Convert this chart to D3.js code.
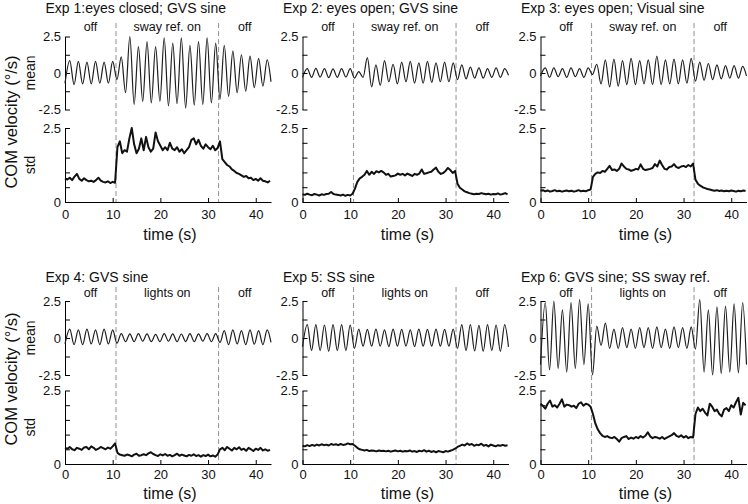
<!DOCTYPE html>
<html><head><meta charset="utf-8">
<script src="https://cdn.jsdelivr.net/npm/d3@7"></script>
<style>
body{margin:0;background:#fff}
text{font-family:"Liberation Sans",Arial,Helvetica,sans-serif;fill:#111}
</style>
</head><body>
<svg id="c" width="748" height="504"></svg>
<script>
// ---------------- DATA ----------------
const titles = ["Exp 1:eyes closed; GVS sine","Exp 2: eyes open; GVS sine","Exp 3: eyes open; Visual sine",
                "Exp 4: GVS sine","Exp 5: SS sine","Exp 6: GVS sine; SS sway ref."];
const segLabelsTop = ["off","sway ref. on","off"];
const segLabelsBottom = ["off","lights on","off"];
const phaseTimes = [10.7, 32.2];
const timeDomain = [0, 43.2];
const timeTicks = [0,10,20,30,40];
const meanTicks = [-2.5,-1.25,0,1.25,2.5];
const meanTickLabels = ["-2.5","","0","","2.5"];
const stdTicks = [0,0.5,1,1.5,2,2.5];
const stdTickLabels = ["0","","","","","2.5"];

// times of the successive troughs / peaks of the mean traces (s)
const extremaTimes = [0,1.0,1.9,2.8,3.7,4.6,5.5,6.4,7.3,8.2,9.1,10.0,10.9,11.8,12.7,13.6,14.5,15.4,16.3,17.2,
  18.1,19.0,19.9,20.8,21.7,22.6,23.5,24.4,25.3,26.2,27.1,28.0,28.9,29.8,30.7,31.6,32.5,33.4,34.3,35.2,36.1,37.0,
  37.9,38.8,39.7,40.6,41.5,42.4,43.2];

const mean1 = [-0.7,0.85,-0.8,0.8,-0.75,0.75,-0.75,0.8,-0.7,0.75,-0.7,0.8,-0.45,
  1.1,-1.35,2.5,-2.15,1.8,-1.95,2.15,-2.05,1.8,-1.95,2.4,-2.25,2.05,-2.1,2.4,-2.4,1.9,-2.2,2.15,-2.15,2.4,-2.05,2.05,-1.8,
  1.9,-1.6,1.5,-1.35,1.25,-1.25,1.15,-1.0,1.0,-0.9,0.9,-0.6];
const mean2 = [-0.3,0.3,-0.3,0.32,-0.28,0.3,-0.32,0.28,-0.3,0.3,-0.28,0.3,-0.35,
  0.1,-0.3,1.05,-0.95,0.55,-0.85,0.85,-0.6,0.6,-0.75,0.75,-0.6,0.8,-0.7,0.7,-0.7,0.8,-0.65,0.7,-0.6,0.75,-0.6,0.7,-0.45,
  0.55,-0.4,0.4,-0.35,0.35,-0.35,0.3,-0.3,0.35,-0.3,0.3,-0.15];
const mean3 = [-0.2,0.35,-0.3,0.35,-0.25,0.3,-0.3,0.35,-0.25,0.3,-0.3,0.35,-0.1,
  0.6,-0.75,0.9,-0.95,0.95,-0.9,0.85,-0.8,1.0,-0.8,0.85,-0.75,0.9,-0.8,1.15,-0.8,0.9,-0.75,0.95,-0.75,0.9,-0.7,1.0,-0.55,
  0.75,-0.5,0.65,-0.45,0.55,-0.4,0.5,-0.35,0.5,-0.35,0.45,-0.2];
const mean4 = [-0.4,0.6,-0.45,0.55,-0.45,0.6,-0.4,0.55,-0.45,0.6,-0.4,0.55,-0.35,
  0.3,-0.25,0.28,-0.25,0.3,-0.22,0.28,-0.25,0.25,-0.25,0.3,-0.22,0.28,-0.25,0.27,-0.24,0.3,-0.25,0.28,-0.22,0.3,-0.25,0.3,-0.3,
  0.5,-0.45,0.55,-0.4,0.5,-0.45,0.55,-0.42,0.5,-0.45,0.55,-0.3];
const mean5 = [-0.6,0.9,-0.85,0.9,-0.85,0.88,-0.9,0.9,-0.85,0.9,-0.85,0.88,-0.7,
  0.6,-0.55,0.58,-0.55,0.6,-0.55,0.55,-0.58,0.6,-0.55,0.58,-0.55,0.55,-0.58,0.6,-0.55,0.58,-0.55,0.6,-0.55,0.58,-0.55,0.6,-0.7,
  0.9,-0.85,0.9,-0.88,0.85,-0.9,0.9,-0.85,0.88,-0.9,0.9,-0.6];
const mean6 = [-1.8,2.4,-2.15,2.5,-2.05,1.9,-2.3,2.4,-2.05,2.6,-1.8,2.3,-2.5,
  0.8,-0.5,1.0,-0.7,0.6,-0.7,0.7,-0.65,0.6,-0.7,0.7,-0.65,0.7,-0.7,0.75,-0.65,0.6,-0.7,0.75,-0.65,0.7,-0.7,0.75,-0.75,
  2.6,-2.3,1.9,-2.5,2.1,-2.4,2.15,-2.3,2.3,-2.35,2.4,-1.8];

// std traces sampled every 0.5 s from 0 to 43 s
const stdStep = 0.5;
const std1 = [0.80,0.76,0.82,0.74,0.86,0.95,0.78,0.72,0.80,0.74,0.70,0.72,0.68,0.74,0.82,0.72,0.68,0.66,0.70,0.64,0.68,0.65,
  1.85,2.05,1.65,1.75,1.70,2.15,2.50,1.95,1.65,1.80,2.15,1.75,2.20,1.85,1.70,1.80,2.35,2.05,1.90,1.75,
  1.85,1.75,2.00,1.80,1.75,1.85,1.70,1.78,1.65,1.75,1.85,2.10,2.15,1.95,2.10,1.90,1.80,1.95,1.85,1.78,1.90,1.75,1.82,2.05,
  1.45,1.35,1.25,1.20,1.10,1.05,0.98,0.95,0.90,0.85,0.88,0.80,0.82,0.74,0.78,0.72,0.80,0.72,0.70,0.66,0.72];
const std2 = [0.26,0.24,0.28,0.25,0.23,0.27,0.25,0.22,0.26,0.24,0.27,0.28,0.34,0.27,0.25,0.24,0.22,0.25,0.21,0.24,0.22,0.28,
  0.45,0.68,0.80,0.85,0.92,1.05,0.92,1.02,0.95,1.04,1.00,1.05,1.00,0.92,0.95,0.86,0.88,0.90,0.96,0.92,
  0.95,0.90,0.96,0.92,0.88,0.95,0.92,0.96,1.10,0.95,0.97,1.00,1.02,1.10,1.16,1.02,0.95,0.98,1.05,1.15,1.08,0.98,1.05,0.62,
  0.48,0.42,0.36,0.33,0.30,0.28,0.26,0.28,0.27,0.30,0.28,0.26,0.28,0.25,0.27,0.26,0.29,0.25,0.27,0.30,0.26];
const std3 = [0.38,0.40,0.36,0.39,0.35,0.37,0.40,0.36,0.38,0.35,0.37,0.39,0.36,0.38,0.35,0.37,0.40,0.36,0.38,0.36,0.40,0.42,
  0.85,0.95,1.00,0.98,1.05,1.02,1.12,1.22,1.08,1.10,1.05,1.12,1.30,1.20,1.12,1.10,1.05,1.08,1.12,1.10,
  1.27,1.12,1.08,1.10,1.12,1.15,1.28,1.20,1.40,1.25,1.12,1.10,1.18,1.20,1.28,1.18,1.15,1.20,1.22,1.18,1.25,1.20,1.30,0.75,
  0.62,0.55,0.50,0.47,0.44,0.42,0.40,0.38,0.40,0.37,0.39,0.36,0.38,0.36,0.39,0.37,0.35,0.38,0.36,0.39,0.37];
const std4 = [0.55,0.52,0.58,0.50,0.47,0.55,0.52,0.48,0.56,0.58,0.50,0.60,0.55,0.48,0.52,0.58,0.54,0.50,0.56,0.52,0.60,0.70,
  0.38,0.32,0.30,0.28,0.32,0.30,0.26,0.32,0.35,0.28,0.30,0.33,0.30,0.36,0.40,0.34,0.30,0.27,0.33,0.29,
  0.34,0.28,0.31,0.26,0.30,0.35,0.28,0.32,0.29,0.26,0.31,0.28,0.33,0.27,0.30,0.25,0.30,0.27,0.32,0.26,0.29,0.25,0.32,0.50,
  0.55,0.47,0.58,0.52,0.46,0.55,0.50,0.57,0.48,0.52,0.45,0.55,0.50,0.44,0.52,0.48,0.55,0.46,0.50,0.45,0.48];
const std5 = [0.62,0.60,0.64,0.61,0.65,0.62,0.66,0.63,0.67,0.64,0.66,0.63,0.68,0.65,0.67,0.64,0.68,0.65,0.66,0.70,0.67,0.68,
  0.62,0.55,0.50,0.48,0.46,0.48,0.44,0.46,0.45,0.43,0.46,0.44,0.45,0.43,0.45,0.42,0.44,0.46,0.43,0.45,
  0.42,0.44,0.43,0.46,0.42,0.44,0.41,0.45,0.43,0.47,0.42,0.45,0.41,0.44,0.40,0.44,0.42,0.40,0.44,0.42,0.45,0.48,0.52,0.58,
  0.62,0.66,0.63,0.70,0.65,0.68,0.62,0.66,0.64,0.69,0.62,0.65,0.60,0.66,0.63,0.60,0.64,0.62,0.65,0.62,0.64];
const std6 = [2.05,1.98,1.88,2.05,2.16,1.95,2.00,1.92,2.05,2.20,1.95,2.02,2.00,1.95,1.98,1.90,2.05,2.10,1.98,2.05,2.02,1.95,
  1.70,1.38,1.18,1.05,0.96,0.92,0.95,0.90,0.88,0.92,0.85,0.76,0.88,0.92,0.95,0.85,0.90,0.86,0.92,0.88,
  0.95,0.90,0.96,1.08,0.94,0.88,0.92,0.90,0.86,0.92,0.85,0.90,0.94,0.98,1.05,0.96,0.92,0.98,0.90,0.95,0.88,0.92,0.90,1.70,
  1.92,1.80,1.88,1.75,1.65,2.05,1.95,1.80,1.85,1.70,1.62,1.85,1.90,1.80,2.00,1.92,2.10,2.25,1.68,2.08,2.00];

const meanSeries = [mean1,mean2,mean3,mean4,mean5,mean6];
const stdSeries = [std1,std2,std3,std4,std5,std6];

// ---------------- LAYOUT ----------------
const colX = [65, 302.5, 540.5];
const plotW = 206;
const rows = [
  {meanTop:36.5, meanBot:109.5, stdTop:128, stdBot:202, titleY:13, segY:31, tickPad:7.5, xlabY:240, dashTop:23, yLabC:122},
  {meanTop:301, meanBot:375, stdTop:390.5, stdBot:464, titleY:281.5, segY:296.5, tickPad:6.2, xlabY:499, dashTop:287, yLabC:379}
];
const FONT = '"Liberation Sans",Arial,Helvetica,sans-serif';

const svg = d3.select("#c");

function styleAxis(g){
  g.attr("font-family", FONT).attr("font-size", 13);
  g.selectAll("path.domain").attr("stroke","#000").attr("stroke-width",1);
  g.selectAll(".tick line").attr("stroke","#000").attr("stroke-width",1);
  g.selectAll(".tick text").attr("fill","#111");
}

for (let p = 0; p < 6; p++) {
  const row = Math.floor(p/3), col = p % 3;
  const r = rows[row], x0 = colX[col];
  const x = d3.scaleLinear().domain(timeDomain).range([x0, x0 + plotW]);
  const yM = d3.scaleLinear().domain([-2.5, 2.5]).range([r.meanBot, r.meanTop]);
  const yS = d3.scaleLinear().domain([0, 2.5]).range([r.stdBot, r.stdTop]);
  const g = svg.append("g");

  // phase boundaries
  phaseTimes.forEach(t => {
    g.append("line").attr("x1", x(t)).attr("x2", x(t))
      .attr("y1", r.dashTop).attr("y2", r.stdBot)
      .attr("stroke", "#9a9a9a").attr("stroke-width", 1.1).attr("stroke-dasharray", "5,3");
  });

  // segment labels
  const bounds = [timeDomain[0], phaseTimes[0], phaseTimes[1], timeDomain[1]];
  const segL = row === 0 ? segLabelsTop : segLabelsBottom;
  segL.forEach((s, i) => {
    g.append("text").attr("x", x((bounds[i] + bounds[i+1]) / 2)).attr("y", r.segY)
      .attr("text-anchor", "middle").attr("font-size", 12.5).text(s);
  });

  // title
  g.append("text").attr("x", x0 - 19.5).attr("y", r.titleY)
    .attr("font-size", 14).text(titles[p]);

  // mean axis
  const ma = g.append("g").attr("transform", `translate(${x0},0)`)
    .call(d3.axisLeft(yM).tickValues(meanTicks).tickSize(-5).tickSizeOuter(0).tickPadding(4)
      .tickFormat((d, i) => meanTickLabels[i]));
  styleAxis(ma);

  // mean line
  const meanData = extremaTimes.map((t, i) => [t, meanSeries[p][i]]);
  g.append("path").datum(meanData)
    .attr("d", d3.line().x(d => x(d[0])).y(d => yM(d[1])).curve(d3.curveMonotoneX))
    .attr("fill", "none").attr("stroke", "#1e1e1e").attr("stroke-width", 1.2);

  // std axes
  const sa = g.append("g").attr("transform", `translate(${x0},0)`)
    .call(d3.axisLeft(yS).tickValues(stdTicks).tickSize(-5).tickSizeOuter(0).tickPadding(4)
      .tickFormat((d, i) => stdTickLabels[i]));
  styleAxis(sa);
  const xa = g.append("g").attr("transform", `translate(0,${r.stdBot})`)
    .call(d3.axisBottom(x).tickValues(timeTicks).tickSize(-4).tickSizeOuter(0).tickPadding(r.tickPad)
      .tickFormat(d3.format("d")));
  styleAxis(xa);

  // std line
  const stdData = stdSeries[p].map((v, i) => [i * stdStep, v]);
  g.append("path").datum(stdData)
    .attr("d", d3.line().x(d => x(d[0])).y(d => yS(d[1])))
    .attr("fill", "none").attr("stroke", "#111").attr("stroke-width", 2)
    .attr("stroke-linejoin", "round");

  // x label
  g.append("text").attr("x", x0 + plotW / 2 + 2).attr("y", r.xlabY)
    .attr("text-anchor", "middle").attr("font-size", 16).text("time (s)");

  if (col === 0) {
    g.append("text").attr("transform", `translate(16.5,${r.yLabC}) rotate(-90)`)
      .attr("text-anchor", "middle").attr("font-size", 16.5).text("COM velocity (°/s)");
    g.append("text").attr("transform", `translate(35,${(r.meanTop + r.meanBot) / 2}) rotate(-90)`)
      .attr("text-anchor", "middle").attr("font-size", 14).text("mean");
    g.append("text").attr("transform", `translate(35,${(r.stdTop + r.stdBot) / 2}) rotate(-90)`)
      .attr("text-anchor", "middle").attr("font-size", 14).text("std");
  }
}
</script>
</body></html>
